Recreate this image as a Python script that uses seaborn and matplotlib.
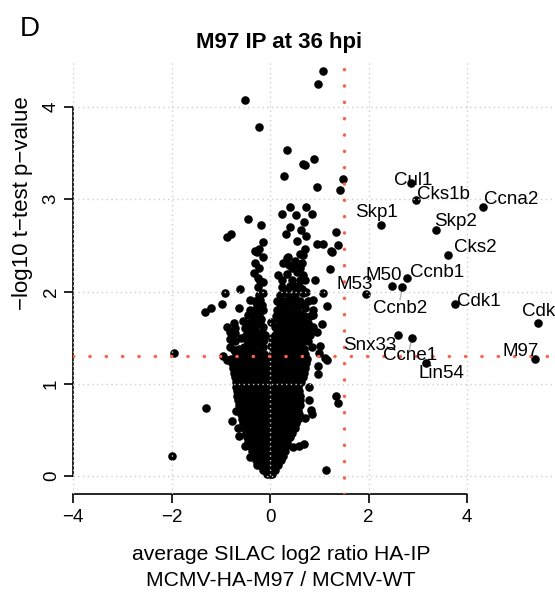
import matplotlib
matplotlib.use("Agg")
import matplotlib.pyplot as plt
import seaborn as sns
import pandas as pd

# ---------------- data ----------------
# labelled proteins (average log2 ratio, -log10 p)
hit_names = ["Cul1", "Cks1b", "Ccna2", "Skp1", "Skp2", "Cks2", "M50", "Ccnb1",
             "M53", "Ccnb2", "Cdk1", "Cdk2", "Snx33", "Ccne1", "Lin54", "M97"]
hit_x = [2.86, 2.96, 4.32, 2.25, 3.37, 3.61, 2.48, 2.79,
         1.94, 2.69, 3.76, 5.44, 2.59, 2.88, 3.16, 5.38]
hit_y = [3.18, 2.99, 2.92, 2.72, 2.67, 2.40, 2.06, 2.15,
         1.97, 2.05, 1.87, 1.66, 1.53, 1.50, 1.22, 1.27]

# sparse upper proteins
upper_pts = [(1.08, 4.39), (0.97, 4.25), (-0.51, 4.08), (-0.22, 3.78), (0.35, 3.53),
             (0.89, 3.44), (0.66, 3.38), (0.71, 3.37), (0.28, 3.25), (1.49, 3.22),
             (0.95, 3.13), (1.42, 3.10), (0.41, 2.92), (0.73, 2.92), (0.24, 2.84),
             (0.53, 2.83), (0.86, 2.84), (-0.45, 2.79), (-0.18, 2.72), (0.70, 2.75),
             (0.40, 2.70), (0.63, 2.67), (1.35, 2.64), (-0.88, 2.59), (-0.79, 2.62),
             (0.32, 2.62), (0.73, 2.60), (0.55, 2.55), (-0.15, 2.54), (0.95, 2.52),
             (1.07, 2.52), (1.38, 2.50), (1.23, 2.44), (-0.30, 2.44), (-0.22, 2.46),
             (0.61, 2.41), (0.72, 2.46), (-0.15, 2.37), (0.37, 2.37)]

# middle band proteins
mid_pts = [(-0.27, 2.43), (0.34, 2.36), (0.27, 2.31), (0.39, 2.29), (0.54, 2.29),
           (0.64, 2.31), (0.68, 2.40), (1.25, 2.43), (1.22, 2.24), (-0.32, 2.20),
           (0.17, 2.18), (0.34, 2.19), (0.54, 2.21), (0.68, 2.18), (0.71, 2.12),
           (0.91, 2.12), (-0.20, 2.11), (-0.14, 2.10), (-0.24, 2.05), (-0.60, 2.03),
           (-0.91, 1.98), (0.24, 2.05), (0.41, 2.06), (0.47, 2.07), (0.58, 2.06),
           (0.64, 2.03), (-0.14, 1.98), (-0.20, 1.91), (-0.17, 1.85), (-0.27, 1.84),
           (-0.14, 1.80), (0.30, 1.98), (0.41, 1.94), (0.47, 1.91), (0.54, 1.87),
           (0.68, 1.98), (0.74, 2.00), (0.88, 1.91), (1.08, 1.98), (1.15, 1.84),
           (-0.98, 1.86), (-1.20, 1.82), (-1.32, 1.78), (-0.62, 1.82), (0.14, 1.80),
           (0.24, 1.82), (0.34, 1.78), (0.47, 1.80), (0.61, 1.76), (0.88, 1.80),
           (0.88, 1.75), (-0.55, 1.68), (-0.74, 1.66), (-0.88, 1.62), (-0.41, 1.60),
           (-0.20, 1.67), (-0.14, 1.62), (-0.27, 1.55), (0.03, 1.67), (0.24, 1.62),
           (0.41, 1.65), (0.54, 1.69), (0.68, 1.67), (0.74, 1.60), (0.88, 1.62),
           (1.05, 1.65), (-0.71, 1.55), (-0.81, 1.49), (-0.71, 1.46), (-0.81, 1.40),
           (-0.68, 1.37), (0.81, 1.53), (0.95, 1.56), (1.02, 1.41), (-1.95, 1.33),
           (-0.81, 1.56), (-0.71, 1.60), (-0.78, 1.47), (-0.74, 1.37), (-0.88, 1.26),
           (-0.95, 1.30), (1.11, 1.28), (1.00, 1.33),
           (-0.52, 1.40), (-0.14, 1.40), (-0.46, 1.47), (-0.12, 1.47), (-0.48, 1.53),
           (-0.10, 1.53), (-0.50, 1.60), (-0.30, 1.61), (-0.42, 1.66), (-0.30, 1.67),
           (-0.36, 1.73), (-0.24, 1.73), (-0.45, 1.74), (-0.30, 1.80), (-0.40, 1.80),
           (-0.30, 1.90), (-0.40, 1.91), (-0.22, 1.96), (-0.25, 2.15), (-0.22, 2.26),
           (-0.30, 2.31), (0.03, 1.41), (0.85, 1.40), (0.07, 1.47), (0.17, 1.47),
           (0.27, 1.47), (0.37, 1.47), (0.47, 1.47), (0.57, 1.47), (0.78, 1.46),
           (0.10, 1.53), (0.21, 1.53), (0.32, 1.53), (0.42, 1.53), (0.52, 1.53),
           (0.66, 1.53), (0.15, 1.59), (0.25, 1.59), (0.52, 1.59), (0.64, 1.59),
           (0.80, 1.59), (0.20, 1.66), (0.30, 1.66), (0.47, 1.66), (0.60, 1.66),
           (0.78, 1.66), (0.12, 1.73), (0.25, 1.73), (0.40, 1.73), (0.56, 1.73),
           (0.70, 1.73), (0.82, 1.73), (0.28, 1.82), (0.42, 1.82), (0.55, 1.82),
           (0.72, 1.82), (0.15, 1.90), (0.25, 1.90), (0.35, 1.90), (0.60, 1.90),
           (0.78, 1.90), (0.20, 1.96), (0.50, 1.96), (0.35, 2.02), (0.52, 2.02),
           (0.25, 2.12), (0.45, 2.12), (0.60, 2.12), (0.45, 2.25), (0.60, 2.25),
           (0.50, 2.33)]

# lower outliers
low_pts = [(-1.29, 0.74), (-1.98, 0.22), (1.14, 0.07), (0.98, 1.19), (0.98, 1.11),
           (1.15, 1.26), (0.80, 0.82), (0.83, 0.72), (0.85, 0.67), (0.71, 0.63),
           (1.35, 0.87), (1.39, 0.79), (0.80, 0.96), (0.47, 0.31), (0.58, 0.33),
           (0.69, 0.35), (-0.69, 0.71), (-0.78, 0.60), (-0.64, 0.52), (-0.63, 0.43),
           (-0.51, 0.33), (-0.41, 0.21), (-0.27, 0.12)]

# dense core, one list of ratios per -log10 p level
core_y = [0.02, 0.07, 0.12, 0.17, 0.22, 0.27, 0.32, 0.37, 0.42, 0.47, 0.52, 0.57,
          0.62, 0.67, 0.72, 0.77, 0.82, 0.87, 0.92, 0.97, 1.02, 1.07, 1.12, 1.17,
          1.22, 1.27, 1.32, 1.38, 1.44, 1.50, 1.56, 1.62, 1.70, 1.76, 1.86]
core_x = [
    [-0.07, 0.00, 0.04],
    [-0.15, -0.06, 0.03, 0.11],
    [-0.21, -0.12, -0.03, 0.07, 0.17],
    [-0.28, -0.18, -0.08, 0.02, 0.12, 0.23],
    [-0.31, -0.22, -0.13, -0.03, 0.07, 0.17, 0.27],
    [-0.36, -0.26, -0.17, -0.07, 0.03, 0.13, 0.22, 0.30],
    [-0.40, -0.30, -0.21, -0.11, -0.02, 0.08, 0.18, 0.27, 0.33],
    [-0.44, -0.34, -0.25, -0.15, -0.05, 0.05, 0.14, 0.24, 0.35],
    [-0.46, -0.37, -0.27, -0.18, -0.08, 0.02, 0.11, 0.21, 0.31, 0.40],
    [-0.49, -0.40, -0.30, -0.21, -0.11, -0.01, 0.09, 0.19, 0.29, 0.38, 0.45],
    [-0.52, -0.42, -0.33, -0.23, -0.13, -0.04, 0.06, 0.16, 0.26, 0.36, 0.46, 0.51],
    [-0.55, -0.45, -0.36, -0.26, -0.16, -0.06, 0.03, 0.13, 0.23, 0.33, 0.43, 0.53],
    [-0.57, -0.47, -0.38, -0.28, -0.19, -0.09, 0.01, 0.11, 0.21, 0.31, 0.41, 0.50, 0.56],
    [-0.59, -0.49, -0.40, -0.30, -0.20, -0.11, -0.01, 0.09, 0.19, 0.29, 0.39, 0.49, 0.58],
    [-0.61, -0.52, -0.42, -0.33, -0.23, -0.13, -0.03, 0.07, 0.17, 0.27, 0.37, 0.47, 0.57],
    [-0.63, -0.54, -0.44, -0.35, -0.25, -0.15, -0.05, 0.05, 0.15, 0.25, 0.35, 0.45, 0.55, 0.61],
    [-0.64, -0.55, -0.45, -0.36, -0.26, -0.16, -0.06, 0.04, 0.14, 0.24, 0.34, 0.44, 0.53, 0.60],
    [-0.66, -0.57, -0.47, -0.38, -0.28, -0.18, -0.08, 0.02, 0.12, 0.22, 0.32, 0.42, 0.52, 0.60],
    [-0.67, -0.58, -0.48, -0.39, -0.29, -0.19, -0.09, 0.01, 0.11, 0.21, 0.31, 0.41, 0.50, 0.58],
    [-0.69, -0.60, -0.50, -0.40, -0.31, -0.21, -0.11, -0.01, 0.09, 0.19, 0.29, 0.39, 0.48, 0.56],
    [-0.70, -0.61, -0.51, -0.42, -0.32, -0.22, -0.12, -0.02, 0.08, 0.18, 0.28, 0.38, 0.48, 0.57, 0.63],
    [-0.72, -0.62, -0.53, -0.43, -0.33, -0.24, -0.14, -0.04, 0.06, 0.16, 0.26, 0.36, 0.46, 0.56, 0.66],
    [-0.74, -0.64, -0.55, -0.45, -0.35, -0.25, -0.15, -0.05, 0.05, 0.15, 0.25, 0.35, 0.45, 0.55, 0.64, 0.70],
    [-0.76, -0.66, -0.56, -0.47, -0.37, -0.27, -0.17, -0.07, 0.03, 0.13, 0.23, 0.33, 0.43, 0.53, 0.63, 0.72],
    [-0.78, -0.68, -0.58, -0.48, -0.38, -0.28, -0.18, -0.08, 0.02, 0.12, 0.22, 0.32, 0.42, 0.52, 0.62, 0.73],
    [-0.80, -0.70, -0.60, -0.50, -0.40, -0.30, -0.20, -0.10, 0.00, 0.10, 0.20, 0.30, 0.40, 0.50, 0.60, 0.70, 0.76],
    [-0.70, -0.58, -0.47, -0.36, -0.25, -0.12, 0.05, 0.16, 0.27, 0.38, 0.49, 0.60, 0.72],
    [-0.62, -0.46, -0.36, -0.26, 0.08, 0.18, 0.28, 0.38, 0.48, 0.58, 0.70],
    [-0.40, -0.30, -0.20, 0.12, 0.22, 0.32, 0.42, 0.52, 0.64],
    [-0.58, -0.36, -0.25, 0.05, 0.16, 0.27, 0.37, 0.47, 0.60, 0.72],
    [-0.42, -0.32, -0.16, 0.20, 0.30, 0.40, 0.50, 0.62],
    [-0.34, 0.10, 0.34, 0.46, 0.58],
    [-0.30, -0.18, 0.16, 0.30, 0.45, 0.62],
    [-0.22, 0.20, 0.38, 0.52],
    [0.20, 0.36, 0.62],
]

# label text anchors (baseline) for the hits
label_pos = [(2.90, 3.15), (3.53, 3.00), (4.89, 2.95), (2.17, 2.81), (3.77, 2.71),
             (4.16, 2.43), (2.31, 2.13), (3.40, 2.16), (1.72, 2.03), (2.65, 1.77),
             (4.23, 1.84), (5.11, 1.73), (2.03, 1.37), (2.85, 1.26), (3.49, 1.06),
             (5.10, 1.30)]

fc_cut = 1.5
p_cut = 1.3

# ---------------- assemble ----------------
xs, ys = [], []
for pts in (upper_pts, mid_pts, low_pts):
    for px, py in pts:
        xs.append(px); ys.append(py)
for yv, row in zip(core_y, core_x):
    for xv in row:
        xs.append(xv); ys.append(yv)
xs += hit_x
ys += hit_y
df = pd.DataFrame({"ratio": xs, "logp": ys})

sns.set_style("white")
plt.rcParams["font.family"] = ["Liberation Sans", "DejaVu Sans"]
plt.rcParams["text.color"] = "black"
plt.rcParams["xtick.color"] = "black"
plt.rcParams["ytick.color"] = "black"

W, H = 555, 600
fig = plt.figure(figsize=(W / 100, H / 100), dpi=100)
ax = fig.add_axes([73 / W, 106 / H, 482 / W, 432 / H])

sns.scatterplot(data=df, x="ratio", y="logp", color="black", s=38,
                linewidth=0, ax=ax, zorder=2, legend=False, clip_on=False)

ax.set_xlim(-4.0, (W - 270) / 49.25)
ax.set_ylim(-0.195, 4.488)

grid_kw = dict(color="#cfcfcf", lw=1.0, ls=(0, (1, 2.4)), zorder=3)
for gx in [-4, -2, 0, 2, 4]:
    ax.axvline(gx, **grid_kw)
for gy in [0, 1, 2, 3, 4]:
    ax.axhline(gy, **grid_kw)

red_kw = dict(color="#fb6347", lw=2.4, ls=(0, (0.1, 4.8)),
              dash_capstyle="round", zorder=4)
ax.axvline(fc_cut, **red_kw)
ax.axhline(p_cut, **red_kw)

# leader lines for two labels
ax.plot([2.69, 2.64], [2.05, 1.91], color="#b5b5b5", lw=1, zorder=1)
ax.plot([2.88, 2.83], [1.50, 1.37], color="#b5b5b5", lw=1, zorder=1)

for name, (lx, ly) in zip(hit_names, label_pos):
    ha = "left" if name == "Cdk2" else "center"
    ax.text(lx, ly, name, ha=ha, va="baseline", fontsize=13.5, color="black",
            zorder=5, clip_on=False)

for s in ["top", "right"]:
    ax.spines[s].set_visible(False)
ax.spines["left"].set_bounds(0, 4)
ax.spines["bottom"].set_bounds(-4, 4)
for s in ["left", "bottom"]:
    ax.spines[s].set_linewidth(1.2)
    ax.spines[s].set_color("black")
    ax.spines[s].set_zorder(2.5)

ax.set_xticks([-4, -2, 0, 2, 4])
ax.set_yticks([0, 1, 2, 3, 4])
ax.tick_params(axis="both", length=6.5, width=1.2, color="black", labelcolor="black",
               labelsize=13.5, direction="out", bottom=True, left=True)
ax.tick_params(axis="x", pad=4)
ax.tick_params(axis="y", pad=3, labelrotation=90)
for lab in ax.get_yticklabels():
    lab.set_va("center")
ax.set_xlabel("")
ax.set_ylabel("")

fig.text(279 / W, 1 - 48 / H, "M97 IP at 36 hpi", ha="center", va="baseline",
         fontsize=16, fontweight="bold", color="black")
fig.text(20 / W, 1 - 36 / H, "D", ha="left", va="baseline", fontsize=20, color="black")
fig.text(23 / W, 1 - 203 / H, "\u2212log10 t\u2212test p\u2212value", rotation=90,
         ha="center", va="center", fontsize=16, color="black")
fig.text(281 / W, 1 - 555 / H, "average SILAC log2 ratio HA-IP", ha="center",
         va="center", fontsize=15.2, color="black")
fig.text(281 / W, 1 - 581 / H, "MCMV-HA-M97 / MCMV-WT", ha="center",
         va="center", fontsize=15.2, color="black")

fig.savefig("out.png", dpi=100)
